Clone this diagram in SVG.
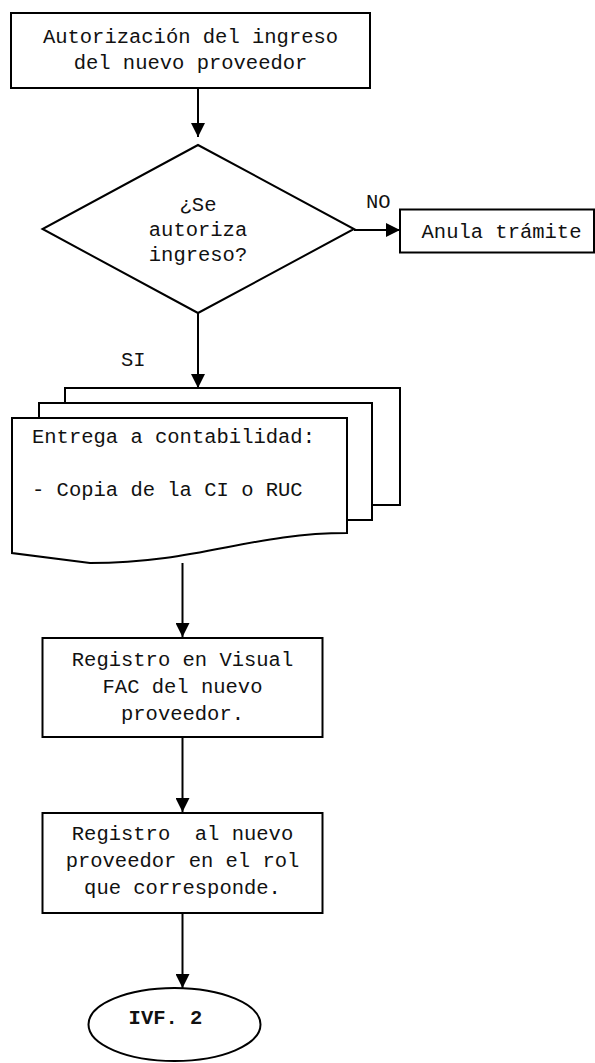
<svg xmlns="http://www.w3.org/2000/svg" width="595" height="1063" viewBox="0 0 595 1063">
  <style>
    .shape { fill: #fff; stroke: #000; stroke-width: 2; }
    .edge { fill: none; stroke: #000; stroke-width: 2; }
    .lbl { font-family: "Liberation Mono", "Courier New", monospace; font-size: 20.5px; fill: #111; }
    .mid { text-anchor: middle; }
    .bold { font-weight: bold; }
  </style>
  <defs>
    <marker id="arrow" viewBox="0 0 14 14" refX="14" refY="7" markerWidth="14" markerHeight="14" markerUnits="userSpaceOnUse" orient="auto">
      <path d="M0,0 L14,7 L0,14 Z" fill="#000"/>
    </marker>
  </defs>

  <rect width="595" height="1063" fill="#fff"/>

  <!-- connectors -->
  <g id="connectors">
    <line class="edge" x1="198" y1="88" x2="198" y2="137" marker-end="url(#arrow)"/>
    <line class="edge" x1="354" y1="230" x2="400" y2="230" marker-end="url(#arrow)"/>
    <line class="edge" x1="198" y1="313" x2="198" y2="388" marker-end="url(#arrow)"/>
    <line class="edge" x1="182.5" y1="563" x2="182.5" y2="637" marker-end="url(#arrow)"/>
    <line class="edge" x1="182.5" y1="737" x2="182.5" y2="812" marker-end="url(#arrow)"/>
    <line class="edge" x1="182.5" y1="913" x2="182.5" y2="988" marker-end="url(#arrow)"/>
    <text class="lbl" x="366" y="208">NO</text>
    <text class="lbl" x="121" y="366">SI</text>
  </g>

  <!-- start process -->
  <g id="autorizacion">
    <rect class="shape" x="11" y="13" width="359" height="75"/>
    <text class="lbl mid" x="190.5" y="43">Autorización del ingreso</text>
    <text class="lbl mid" x="190.5" y="69">del nuevo proveedor</text>
  </g>

  <!-- decision -->
  <g id="decision">
    <polygon class="shape" points="198,145 354,229 198,313 42.5,229"/>
    <text class="lbl mid" x="198" y="211">¿Se</text>
    <text class="lbl mid" x="198" y="236">autoriza</text>
    <text class="lbl mid" x="198" y="261">ingreso?</text>
  </g>

  <!-- rejection -->
  <g id="anula">
    <rect class="shape" x="400" y="209.5" width="194" height="43"/>
    <text class="lbl mid" x="501.5" y="238">Anula trámite</text>
  </g>

  <!-- multi-document -->
  <g id="entrega">
    <rect class="shape" x="65" y="388" width="335" height="117"/>
    <rect class="shape" x="39" y="403" width="333" height="117"/>
    <path class="shape" d="M12,418 H347 V533 C250,533 200,563 90,563 L12,553 Z"/>
    <text class="lbl" x="32" y="443">Entrega a contabilidad:</text>
    <text class="lbl" x="32" y="496">- Copia de la CI o RUC</text>
  </g>

  <!-- registration in Visual FAC -->
  <g id="registro-fac">
    <rect class="shape" x="42.5" y="638" width="280" height="99"/>
    <text class="lbl mid" x="182.5" y="666">Registro en Visual</text>
    <text class="lbl mid" x="182.5" y="693">FAC del nuevo</text>
    <text class="lbl mid" x="182.5" y="720">proveedor.</text>
  </g>

  <!-- registration in role -->
  <g id="registro-rol">
    <rect class="shape" x="42.5" y="813" width="280" height="100"/>
    <text class="lbl mid" x="182.5" y="840" xml:space="preserve">Registro  al nuevo</text>
    <text class="lbl mid" x="182.5" y="867">proveedor en el rol</text>
    <text class="lbl mid" x="182.5" y="894">que corresponde.</text>
  </g>

  <!-- terminator -->
  <g id="ivf2">
    <ellipse class="shape" cx="174.5" cy="1024.5" rx="86" ry="36.5"/>
    <text class="lbl mid bold" x="165.5" y="1024">IVF. 2</text>
  </g>
</svg>
